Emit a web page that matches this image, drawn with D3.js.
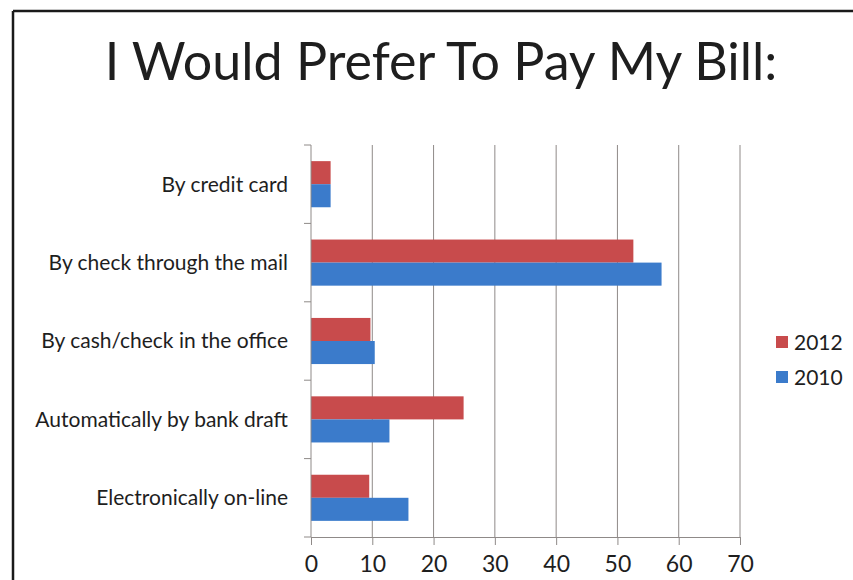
<!DOCTYPE html>
<html>
<head>
<meta charset="utf-8">
<script src="https://cdn.jsdelivr.net/npm/d3@7"></script>
<style>
  html, body { margin: 0; padding: 0; background: #fff; }
  svg { display: block; }
  text { font-family: "Lato", "Open Sans", "DejaVu Sans", sans-serif; fill: #1e1e1e; }
</style>
</head>
<body>
<svg id="chart" width="853" height="580"></svg>
<script>
// Survey answers: preferred way of paying the bill, share of respondents (%)
const categories = [
  "By credit card",
  "By check through the mail",
  "By cash/check in the office",
  "Automatically by bank draft",
  "Electronically on-line"
];
const seriesNames = ["2012", "2010"];
const values2012 = [3.2, 52.6, 9.7, 24.9, 9.5];
const values2010 = [3.2, 57.2, 10.4, 12.8, 15.9];
const xTicks = [0, 10, 20, 30, 40, 50, 60, 70];
const title = "I Would Prefer To Pay My Bill:";

const colors = { "2012": "#c84b4c", "2010": "#3b7bcb" };
const seriesValues = { "2012": values2012, "2010": values2010 };

const svg = d3.select("#chart");

// Frame lines along the top and left edge
svg.append("line").attr("x1", 13).attr("x2", 853).attr("y1", 11).attr("y2", 11)
  .attr("stroke", "#1a1a1a").attr("stroke-width", 2.5);
svg.append("line").attr("x1", 13).attr("x2", 13).attr("y1", 11).attr("y2", 580)
  .attr("stroke", "#1a1a1a").attr("stroke-width", 2.5);

// Title
svg.append("text")
  .attr("x", 441).attr("y", 80)
  .attr("text-anchor", "middle")
  .style("font-size", "52px")
  .text(title);

const plot = { left: 311, right: 740, top: 145, bottom: 537 };

const x = d3.scaleLinear().domain([0, 70]).range([plot.left, plot.right]);
const y = d3.scaleBand().domain(categories).range([plot.top, plot.bottom]).padding(0);
const inner = d3.scaleBand().domain(seriesNames).range([0, y.bandwidth()])
  .paddingInner(0).paddingOuter(0.7);

const gridColor = "#8f8a88";

// Vertical gridlines
svg.append("g").selectAll("line")
  .data(xTicks.filter(d => d > 0))
  .join("line")
  .attr("x1", d => x(d)).attr("x2", d => x(d))
  .attr("y1", plot.top).attr("y2", plot.bottom)
  .attr("stroke", gridColor).attr("stroke-width", 1);

// Bars
const rows = categories.map((c, i) => ({ category: c, i }));
seriesNames.forEach(s => {
  svg.append("g").selectAll("rect")
    .data(rows)
    .join("rect")
    .attr("x", x(0))
    .attr("y", d => y(d.category) + inner(s))
    .attr("width", d => x(seriesValues[s][d.i]) - x(0))
    .attr("height", inner.bandwidth())
    .attr("fill", colors[s]);
});

// Bottom value axis
const xAxis = svg.append("g")
  .attr("transform", `translate(0,${plot.bottom})`)
  .call(d3.axisBottom(x).tickValues(xTicks).tickSize(8).tickPadding(11).tickFormat(d3.format("d")));
xAxis.select(".domain").attr("stroke", gridColor);
xAxis.selectAll(".tick line").attr("stroke", gridColor);
xAxis.selectAll(".tick text")
  .style("font-size", "23px")
  .style("font-family", "Lato, 'Open Sans', sans-serif")
  .attr("fill", "#1e1e1e");

// Left category axis: line with ticks at band boundaries
svg.append("line")
  .attr("x1", plot.left).attr("x2", plot.left)
  .attr("y1", plot.top).attr("y2", plot.bottom)
  .attr("stroke", gridColor);
const boundaries = categories.map(c => y(c)).concat([plot.bottom]);
svg.append("g").selectAll("line")
  .data(boundaries)
  .join("line")
  .attr("x1", plot.left - 7).attr("x2", plot.left)
  .attr("y1", d => d).attr("y2", d => d)
  .attr("stroke", gridColor);

// Category labels
svg.append("g").selectAll("text")
  .data(categories)
  .join("text")
  .attr("x", 288)
  .attr("y", d => y(d) + y.bandwidth() / 2)
  .attr("dy", "0.35em")
  .attr("text-anchor", "end")
  .style("font-size", "21px")
  .text(d => d);

// Legend
const legend = svg.append("g").selectAll("g")
  .data(seriesNames)
  .join("g")
  .attr("transform", (d, i) => `translate(776,${336 + i * 35})`);
legend.append("rect")
  .attr("width", 12).attr("height", 12)
  .attr("fill", d => colors[d]);
legend.append("text")
  .attr("x", 18).attr("y", 6).attr("dy", "0.36em")
  .style("font-size", "21px")
  .text(d => d);
</script>
</body>
</html>
